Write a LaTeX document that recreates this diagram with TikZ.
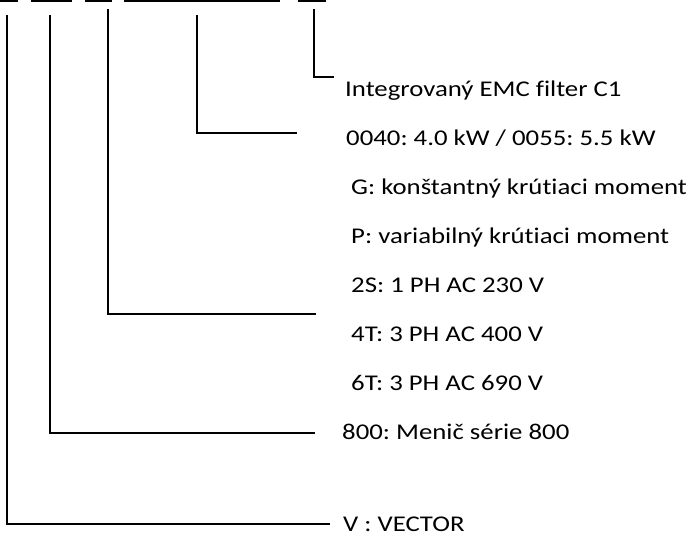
\documentclass[tikz,border=0pt]{standalone}
\usepackage{fontspec}
\setmainfont{Carlito}[FakeStretch=1.19,Ligatures=NoCommon]
\frenchspacing

\begin{document}
\begin{tikzpicture}[x=1pt,y=-1pt,
    every node/.style={font=\fontsize{22.5}{26}\selectfont},
    lbl/.style={anchor=base west,inner sep=0pt},
    lead/.style={line width=1.3pt},
    bar/.style={line width=2.6pt}]
  \useasboundingbox (0,0) rectangle (690,536);
  \draw[bar] (0,1) -- (18,1);
  \draw[bar] (31,1) -- (72,1);
  \draw[bar] (85,1) -- (112,1);
  \draw[bar] (124,1) -- (280,1);
  \draw[bar] (298,1) -- (326,1);

  \node[lbl] (emc) at (345,96) {Integrovaný EMC filter C1};
  \node[lbl] (pwr) at (346,145) {0040: 4.0 kW / 0055: 5.5 kW};
  \node[lbl] (tqg) at (351,194) {G: konštantný krútiaci moment};
  \node[lbl] (tqp) at (351,243) {P: variabilný krútiaci moment};
  \node[lbl] (v2s) at (351,292) {2S: 1 PH AC 230 V};
  \node[lbl] (v4t) at (351,341) {4T: 3 PH AC 400 V};
  \node[lbl] (v6t) at (351,390) {6T: 3 PH AC 690 V};
  \node[lbl] (ser) at (342,439) {800: Menič série 800};
  \node[lbl] (vec) at (343,531) {V : VECTOR};

  \coordinate (emctop) at (314,9);
  \coordinate (emcend) at (334,77);
  \coordinate (pwrtop) at (197,15);
  \coordinate (pwrend) at (297,133);
  \coordinate (volttop) at (108,9);
  \coordinate (voltend) at (316,314);
  \coordinate (sertop) at (50,15);
  \coordinate (serend) at (315,433);
  \coordinate (vectop) at (7,15);
  \coordinate (vecend) at (330,524);

  \draw[lead] (emctop) |- (emcend);
  \draw[lead] (pwrtop) |- (pwrend);
  \draw[lead] (volttop) |- (voltend);
  \draw[lead] (sertop) |- (serend);
  \draw[lead] (vectop) |- (vecend);
\end{tikzpicture}
\end{document}
